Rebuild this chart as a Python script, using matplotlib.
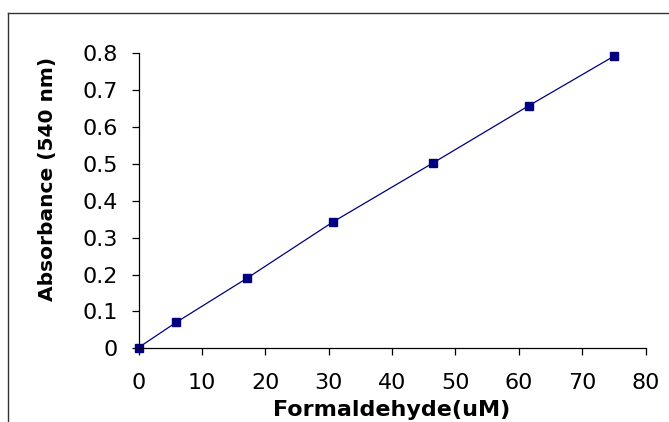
import matplotlib
matplotlib.use('Agg')
import matplotlib.pyplot as plt
from matplotlib.lines import Line2D

plt.rcParams['font.family'] = ['DejaVu Sans']

# formaldehyde standard curve
conc = [0, 5.9, 17.1, 30.7, 46.4, 61.6, 75.0]
absorb = [0.002, 0.07, 0.19, 0.343, 0.502, 0.658, 0.792]
xticks = [0, 10, 20, 30, 40, 50, 60, 70, 80]
yticks = [0, 0.1, 0.2, 0.3, 0.4, 0.5, 0.6, 0.7, 0.8]

W, H = 669, 422
x0, x1, y0, y1 = 138.6, 645.5, 348.3, 53.3  # axes box in pixels
fig = plt.figure(figsize=(W / 100, H / 100), dpi=100)
ax = fig.add_axes([x0 / W, 1 - y0 / H, (x1 - x0) / W, (y0 - y1) / H])

ax.plot(conc, absorb, color='#000080', lw=0.9, marker='s', ms=6,
        mfc='#000080', mec='#000080', clip_on=False)

ax.set_xlim(0, 80)
ax.set_ylim(0, 0.8)
ax.set_xticks(xticks)
ax.set_yticks(yticks)
ax.set_xticklabels([str(t) for t in xticks])
ax.set_yticklabels(['0'] + ['%.1f' % t for t in yticks[1:]])

for s in ['top', 'right']:
    ax.spines[s].set_visible(False)
for s in ['left', 'bottom']:
    ax.spines[s].set_linewidth(0.9)
    ax.spines[s].set_color('black')

ax.tick_params(axis='both', direction='out', length=5, width=0.9, labelsize=16)
ax.tick_params(axis='x', pad=13)
ax.tick_params(axis='y', pad=10)

ax.set_xlabel('Formaldehyde(uM)', fontsize=16, fontweight='bold')
ax.set_ylabel('Absorbance (540 nm)', fontsize=14.5, fontweight='bold')
ax.xaxis.set_label_coords(0.5, (y0 - 400) / (y0 - y1))
ax.yaxis.set_label_coords((57 - x0) / (x1 - x0), (y0 - 179) / (y0 - y1))

# outer chart frame (cut off on right and bottom)
fig.add_artist(Line2D([7.5 / W, 7.5 / W], [0, 1 - 12.5 / H], transform=fig.transFigure,
                      color='#333333', lw=1))
fig.add_artist(Line2D([7.5 / W, 1], [1 - 12.5 / H, 1 - 12.5 / H], transform=fig.transFigure,
                      color='#333333', lw=1))

fig.savefig('out.png', dpi=100)
